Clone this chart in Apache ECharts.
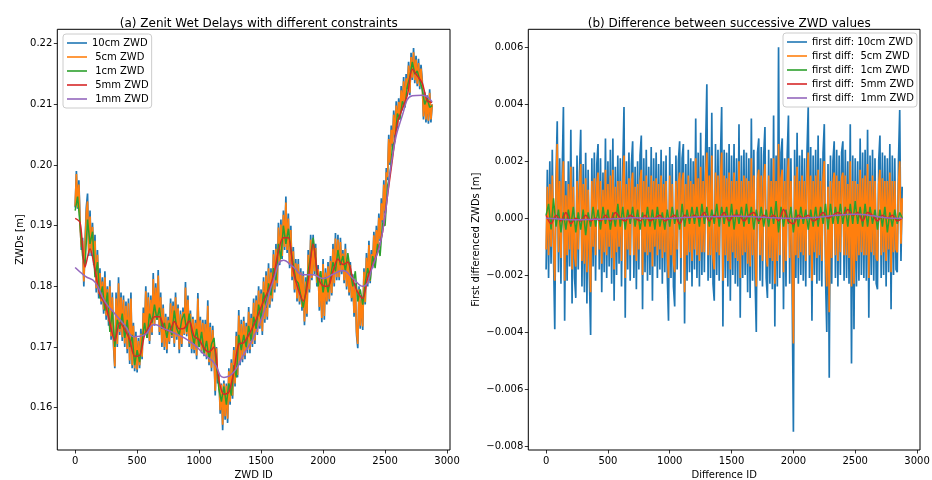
<!DOCTYPE html>
<html><head><meta charset="utf-8">
<script src="https://cdn.jsdelivr.net/npm/echarts@6/dist/echarts.min.js"></script>
<style>html,body{margin:0;padding:0;background:#fff}#c{width:932px;height:480px}</style>
</head><body><div id="c"></div>
<script>
const LAST_ID = 2880;
const xTicks = [0, 500, 1000, 1500, 2000, 2500, 3000];
const leftYTicks = [0.16, 0.17, 0.18, 0.19, 0.20, 0.21, 0.22];
const rightYTicks = [-0.008, -0.006, -0.004, -0.002, 0, 0.002, 0.004, 0.006];
const leftNames = ['10cm ZWD', ' 5cm ZWD', ' 1cm ZWD', ' 5mm ZWD', ' 1mm ZWD'];
const rightNames = ['first diff: 10cm ZWD', 'first diff:  5cm ZWD', 'first diff:  1cm ZWD', 'first diff:  5mm ZWD', 'first diff:  1mm ZWD'];
const colors = ['#1f77b4', '#ff7f0e', '#2ca02c', '#d62728', '#9467bd'];

// (a) ZWD series (evenly spaced over ids 0..LAST_ID)
const zwd10cm = [
.1930,.1990,.1928,.1975,.1905,.1860,.1880,.1800,.1870,.1930,.1953,.1850,.1925,.1850,.1905,.1835,.1885,.1790,.1860,.1780,
.1830,.1770,.1815,.1755,.1825,.1745,.1800,.1735,.1810,.1712,.1790,.1700,.1665,.1790,.1700,.1815,.1720,.1790,.1710,.1785,
.1700,.1775,.1690,.1780,.1672,.1790,.1665,.1740,.1660,.1725,.1658,.1715,.1665,.1730,.1680,.1765,.1720,.1800,.1715,.1790,
.1705,.1785,.1720,.1822,.1735,.1805,.1745,.1827,.1720,.1790,.1700,.1770,.1695,.1755,.1690,.1750,.1705,.1780,.1715,.1775,
.1700,.1790,.1712,.1770,.1690,.1760,.1700,.1765,.1720,.1807,.1718,.1785,.1700,.1760,.1690,.1750,.1690,.1745,.1680,.1789,
.1700,.1750,.1690,.1745,.1685,.1745,.1680,.1777,.1670,.1740,.1660,.1735,.1690,.1620,.1700,.1640,.1655,.1590,.1640,.1563,
.1645,.1580,.1640,.1575,.1665,.1605,.1680,.1615,.1700,.1635,.1725,.1650,.1761,.1670,.1745,.1675,.1750,.1680,.1740,.1690,
.1766,.1690,.1755,.1700,.1780,.1705,.1785,.1720,.1800,.1730,.1795,.1720,.1815,.1740,.1825,.1745,.1838,.1765,.1830,.1775,
.1860,.1790,.1870,.1800,.1905,.1835,.1910,.1845,.1925,.1860,.1948,.1855,.1920,.1830,.1900,.1810,.1865,.1790,.1845,.1775,
.1845,.1770,.1830,.1760,.1825,.1736,.1815,.1750,.1860,.1790,.1885,.1810,.1885,.1820,.1870,.1800,.1835,.1760,.1825,.1741,
.1845,.1745,.1830,.1770,.1840,.1775,.1850,.1785,.1870,.1800,.1888,.1810,.1885,.1810,.1880,.1820,.1860,.1805,.1870,.1795,
.1850,.1785,.1840,.1775,.1820,.1750,.1805,.1720,.1698,.1800,.1730,.1785,.1728,.1830,.1770,.1855,.1800,.1875,.1805,.1860,
.1830,.1890,.1835,.1900,.1860,.1920,.1875,.1945,.1905,.1975,.1920,.1995,.1975,.2050,.2000,.2065,.2030,.2090,.2045,.2105,
.2060,.2110,.2075,.2130,.2090,.2145,.2095,.2150,.2125,.2170,.2115,.2185,.2140,.2193,.2135,.2180,.2130,.2175,.2125,.2165,
.2140,.2075,.2120,.2070,.2115,.2068,.2125,.2070,.2100];
const zwd5cm = [
.1932,.1985,.1930,.1968,.1900,.1865,.1875,.1808,.1865,.1922,.1940,.1855,.1915,.1855,.1898,.1842,.1875,.1797,.1852,.1788,
.1822,.1775,.1808,.1762,.1815,.1752,.1795,.1742,.1800,.1718,.1782,.1708,.1668,.1780,.1705,.1805,.1725,.1782,.1716,.1778,
.1706,.1768,.1697,.1772,.1678,.1780,.1670,.1735,.1665,.1718,.1663,.1710,.1670,.1722,.1684,.1756,.1722,.1792,.1718,.1782,
.1710,.1778,.1724,.1812,.1738,.1798,.1748,.1818,.1725,.1782,.1707,.1764,.1700,.1750,.1696,.1744,.1709,.1772,.1718,.1768,
.1706,.1782,.1717,.1764,.1696,.1754,.1705,.1758,.1722,.1798,.1721,.1778,.1706,.1755,.1697,.1746,.1695,.1740,.1686,.1780,
.1703,.1744,.1694,.1740,.1688,.1738,.1684,.1768,.1675,.1733,.1666,.1728,.1688,.1628,.1698,.1646,.1652,.1596,.1638,.1572,
.1640,.1586,.1636,.1582,.1660,.1610,.1674,.1620,.1695,.1640,.1718,.1654,.1752,.1676,.1738,.1680,.1743,.1686,.1734,.1695,
.1758,.1696,.1748,.1705,.1773,.1711,.1777,.1725,.1793,.1735,.1788,.1726,.1808,.1746,.1818,.1750,.1830,.1770,.1823,.1780,
.1853,.1795,.1862,.1805,.1897,.1840,.1902,.1850,.1918,.1865,.1938,.1860,.1912,.1836,.1893,.1816,.1858,.1795,.1838,.1780,
.1837,.1775,.1823,.1766,.1817,.1742,.1808,.1755,.1852,.1795,.1877,.1814,.1878,.1825,.1863,.1806,.1828,.1766,.1818,.1748,
.1837,.1751,.1823,.1775,.1833,.1779,.1842,.1789,.1862,.1805,.1879,.1815,.1877,.1815,.1873,.1825,.1854,.1810,.1862,.1800,
.1845,.1790,.1835,.1781,.1815,.1756,.1800,.1726,.1705,.1795,.1735,.1780,.1734,.1824,.1774,.1847,.1804,.1868,.1809,.1853,
.1833,.1884,.1838,.1893,.1863,.1913,.1878,.1937,.1909,.1968,.1924,.1988,.1980,.2043,.2004,.2058,.2035,.2083,.2049,.2098,
.2064,.2104,.2079,.2123,.2094,.2138,.2099,.2143,.2128,.2164,.2119,.2178,.2144,.2186,.2140,.2174,.2134,.2168,.2130,.2159,
.2135,.2080,.2116,.2075,.2111,.2073,.2119,.2075,.2100];
const zwd1cm = [
.1925,.1948,.1900,.1850,.1835,.1910,.1870,.1890,.1815,.1840,
.1780,.1800,.1760,.1790,.1725,.1760,.1700,.1745,.1730,.1755,
.1715,.1745,.1700,.1720,.1670,.1695,.1675,.1710,.1740,.1715,
.1755,.1740,.1770,.1745,.1765,.1730,.1740,.1715,.1740,.1720,
.1760,.1730,.1720,.1745,.1755,.1725,.1755,.1725,.1705,.1730,
.1700,.1725,.1690,.1710,.1680,.1705,.1715,.1670,.1630,.1610,
.1635,.1605,.1640,.1620,.1670,.1650,.1720,.1695,.1720,.1700,
.1735,.1710,.1750,.1730,.1770,.1745,.1790,.1765,.1805,.1785,
.1830,.1810,.1870,.1845,.1900,.1870,.1895,.1860,.1835,.1810,
.1805,.1785,.1765,.1790,.1825,.1850,.1880,.1845,.1800,.1825,
.1790,.1815,.1790,.1815,.1840,.1825,.1860,.1835,.1850,.1825,
.1855,.1825,.1800,.1825,.1775,.1795,.1770,.1805,.1830,.1810,
.1850,.1830,.1870,.1850,.1905,.1900,.1965,.1985,.2030,.2040,
.2085,.2075,.2105,.2095,.2130,.2145,.2170,.2150,.2155,.2140,
.2125,.2100,.2110,.2095,.2098];
const zwd5mm = [
.1912,.1905,.1832,.1862,.1827,.1786,.1772,.1740,.1710,.1740,.1729,.1712,.1685,.1686,.1720,.1735,.1750,.1750,.1730,.1727,
.1742,.1730,.1731,.1743,.1718,.1712,.1698,.1692,.1700,.1645,.1622,.1626,.1660,.1705,.1707,.1720,.1736,.1755,.1776,.1794,
.1817,.1858,.1880,.1880,.1825,.1795,.1776,.1811,.1870,.1816,.1801,.1800,.1825,.1845,.1836,.1840,.1812,.1790,.1780,.1815,
.1835,.1857,.1890,.1950,.2010,.2070,.2093,.2115,.2158,.2147,.2135,.2106,.2103];
const zwd1mm = [
.1831,.1817,.1807,.1775,.1755,.1736,.1717,.1720,.1737,.1730,.1723,.1715,.1704,.1688,.1674,.1650,.1659,.1688,.1716,.1756,
.1810,.1843,.1832,.1819,.1819,.1813,.1820,.1826,.1813,.1800,.1833,.1890,.2015,.2082,.2114,.2115,.2104];

// (b) first differences
const diff10cm = [
-.0018,.0017,-.0021,.0020,-.0016,.0024,-.0013,-.0039,.0014,.0034,
-.0019,.0021,-.0023,.0016,.0039,-.0036,.0013,-.0022,.0020,-.0017,
.0031,-.0030,.0018,-.0021,-.0028,.0022,-.0018,.0016,.0031,-.0024,
.0019,-.0026,.0023,-.0030,.0017,-.0020,-.0041,.0021,-.0017,.0023,
-.0022,.0019,.0026,-.0018,.0021,-.0026,.0016,-.0019,.0028,-.0021,
.0020,-.0017,.0024,-.0023,.0028,-.0029,.0018,-.0020,.0022,-.0016,
.0021,-.0024,.0017,.0039,-.0035,.0020,-.0018,.0023,-.0022,.0019,
.0027,-.0021,.0018,-.0025,.0020,-.0018,.0022,.0029,-.0032,.0021,
-.0019,.0024,-.0022,.0018,-.0020,.0025,-.0029,.0021,-.0017,.0023,
-.0021,.0019,-.0018,.0024,-.0023,.0020,-.0019,.0022,-.0020,-.0036,
.0025,-.0021,.0019,-.0024,-.0031,.0022,-.0018,.0020,.0027,-.0023,
.0021,.0026,-.0037,.0019,-.0022,.0024,-.0019,.0021,-.0024,.0020,
-.0018,.0035,-.0021,.0023,-.0024,.0030,-.0020,.0022,-.0019,.0024,
.0047,-.0022,.0025,-.0021,.0037,-.0023,-.0029,.0026,-.0020,.0024,
-.0022,.0021,.0039,-.0038,.0024,-.0021,.0023,-.0024,.0026,-.0029,
.0022,-.0020,.0026,-.0023,.0021,-.0024,.0033,-.0035,.0022,-.0021,
.0024,-.0020,.0023,-.0026,.0021,-.0028,.0035,-.0022,.0024,-.0021,
-.0040,.0023,.0028,-.0022,.0025,-.0024,.0022,.0032,-.0021,-.0028,
.0024,-.0023,.0021,-.0025,.0036,-.0038,.0022,-.0024,.0060,-.0021,
.0023,.0028,-.0032,.0021,-.0024,.0022,.0036,-.0023,.0021,-.0025,
-.0075,.0024,-.0021,.0030,-.0023,.0022,-.0020,.0024,-.0022,.0021,
-.0024,.0023,.0039,-.0021,.0025,-.0036,.0022,-.0020,.0024,-.0023,
.0029,-.0022,.0021,-.0024,.0023,.0033,-.0021,-.0040,.0019,-.0056,
.0022,-.0023,.0020,.0027,-.0021,.0024,-.0024,.0022,-.0020,.0023,
.0027,-.0022,.0024,-.0021,.0020,-.0023,.0033,-.0051,.0022,-.0039,
.0021,-.0024,.0020,-.0022,.0028,-.0020,.0023,-.0021,.0024,-.0022,
.0031,-.0035,.0022,-.0020,.0024,-.0022,.0021,-.0023,-.0025,.0020,
.0029,-.0021,.0023,-.0020,.0022,-.0024,.0021,-.0019,.0026,-.0032,
.0022,-.0020,.0021,-.0018,-.0019,.0020,.0038,-.0015,.0011];
const diff5cm = [
-.0011,.0011,-.0013,.0012,-.0010,.0015,-.0008,-.0022,.0009,.0026,
-.0012,.0013,-.0014,.0010,.0020,-.0022,.0008,-.0013,.0012,-.0011,
.0018,-.0018,.0011,-.0013,-.0017,.0013,-.0011,.0010,.0019,-.0015,
.0012,-.0016,.0014,-.0019,.0010,-.0012,-.0026,.0013,-.0010,.0014,
-.0013,.0012,.0016,-.0011,.0013,-.0016,.0010,-.0012,.0017,-.0013,
.0012,-.0010,.0015,-.0014,.0017,-.0018,.0011,-.0012,.0013,-.0010,
.0013,-.0015,.0010,.0022,-.0021,.0012,-.0011,.0014,-.0013,.0012,
.0016,-.0013,.0011,-.0015,.0012,-.0011,.0013,.0017,-.0020,.0013,
-.0012,.0015,-.0013,.0011,-.0012,.0015,-.0017,.0013,-.0010,.0014,
-.0013,.0012,-.0011,.0015,-.0014,.0012,-.0012,.0013,-.0012,-.0021,
.0015,-.0013,.0012,-.0015,-.0019,.0013,-.0011,.0012,.0016,-.0014,
.0013,.0016,-.0026,.0012,-.0013,.0015,-.0012,.0013,-.0015,.0012,
-.0011,.0021,-.0013,.0014,-.0015,.0018,-.0012,.0013,-.0012,.0015,
.0023,-.0013,.0015,-.0013,.0022,-.0014,-.0018,.0016,-.0012,.0015,
-.0013,.0013,.0023,-.0022,.0015,-.0013,.0014,-.0015,.0016,-.0018,
.0013,-.0012,.0016,-.0014,.0013,-.0015,.0020,-.0021,.0013,-.0013,
.0015,-.0012,.0014,-.0016,.0013,-.0017,.0021,-.0013,.0015,-.0013,
-.0024,.0014,.0017,-.0013,.0015,-.0015,.0013,.0019,-.0013,-.0017,
.0015,-.0014,.0013,-.0015,.0021,-.0023,.0013,-.0015,.0026,-.0013,
.0014,.0017,-.0019,.0013,-.0015,.0013,.0021,-.0014,.0013,-.0015,
-.0044,.0015,-.0013,.0018,-.0014,.0013,-.0012,.0015,-.0013,.0013,
-.0015,.0014,.0023,-.0013,.0015,-.0022,.0013,-.0012,.0015,-.0014,
.0017,-.0013,.0013,-.0015,.0014,.0020,-.0013,-.0024,.0011,-.0033,
.0013,-.0014,.0012,.0016,-.0013,.0015,-.0015,.0013,-.0012,.0014,
.0016,-.0013,.0015,-.0013,.0012,-.0014,.0020,-.0024,.0013,-.0023,
.0013,-.0015,.0012,-.0013,.0017,-.0012,.0014,-.0013,.0015,-.0013,
.0019,-.0021,.0013,-.0012,.0015,-.0013,.0013,-.0014,-.0015,.0012,
.0017,-.0013,.0014,-.0012,.0013,-.0015,.0013,-.0011,.0016,-.0019,
.0013,-.0012,.0013,-.0011,-.0012,.0012,.0020,-.0009,.0007];
const diff1cm = [
.0001,.0005,-.0004,.0007,-.0003,.0003,-.0005,.0002,-.0004,.0003,
-.0003,.0004,-.0005,.0002,-.0004,.0003,-.0006,.0002,-.0003,.0004,
-.0003,.0003,-.0004,.0004,-.0002,.0003,-.0004,.0002,-.0003,.0005,
-.0003,.0004,-.0004,.0003,-.0002,.0004,-.0003,.0003,-.0004,.0002,
-.0003,.0004,-.0003,.0003,-.0004,.0004,-.0003,.0002,-.0004,.0003,
-.0003,.0004,-.0002,.0003,-.0004,.0005,-.0003,.0003,-.0002,.0004,
-.0002,.0004,-.0003,.0005,-.0002,.0004,-.0003,.0003,-.0002,.0005,
-.0003,.0004,-.0002,.0004,-.0003,.0005,-.0004,.0003,-.0002,.0004,
-.0003,.0005,-.0002,.0004,-.0004,.0003,-.0002,.0004,-.0003,.0003,
-.0003,.0004,-.0002,.0006,-.0005,.0004,-.0003,.0003,-.0002,.0004,
-.0005,.0003,-.0003,.0004,-.0002,.0003,-.0004,.0003,-.0003,.0004,
-.0003,.0004,-.0002,.0005,-.0004,.0005,-.0002,.0004,-.0002,.0005,
-.0002,.0004,-.0003,.0005,-.0002,.0006,-.0002,.0004,-.0003,.0005,
-.0003,.0004,-.0002,.0003,-.0004,.0003,-.0003,.0004,-.0005,.0002,
-.0003,.0003,-.0002,.0002,.0000];
const diff5mm = [
.0001,-.0002,.0001,-.0001,.0002,-.0002,.0000,-.0001,.0001,-.0001,
.0000,-.0001,.0001,-.0001,.0002,.0000,-.0001,.0001,.0000,-.0001,
.0001,-.0001,.0000,.0001,-.0001,.0000,.0001,-.0002,.0001,.0000,
.0001,.0000,.0002,-.0001,.0001,.0000,.0002,-.0001,.0001,.0001,
-.0001,.0001,.0002,-.0001,.0001,.0000,.0001,-.0001,.0003,-.0001,
-.0002,.0001,.0000,.0001,-.0001,.0000,.0002,.0000,.0001,.0002,
.0001,.0003,.0001,.0002,-.0001,.0002,.0001,-.0001,.0001,.0000,
.0001,-.0001,.0000];
const diff1mm = [
0,-.00002,-.00005,-.00006,-.00005,-.00004,-.00003,-.00002,0,.00001,0,0,-.00001,0,.00002,.00004,.00006,.00005,.00006,.00007,
.00006,.00005,.00003,.00001,0,-.00001,0,.00002,.00005,.00009,.00012,.00014,.00013,.00008,.00003,0,0];

const FONT = 'DejaVu Sans';
function pts(arr) {
  const step = LAST_ID / (arr.length - 1);
  return arr.map((v, i) => [i * step, v]);
}
function fmtMinus(d) { return v => (v < 0 ? '\u2212' : '') + Math.abs(v).toFixed(d); }

const leftData = [zwd10cm, zwd5cm, zwd1cm, zwd5mm, zwd1mm];
const rightData = [diff10cm, diff5cm, diff1cm, diff5mm, diff1mm];
const widths = [1.7, 1.7, 1.5, 1.5, 1.5];
const smooths = [false, false, false, 0.3, 0.5];

const series = [];
leftData.forEach((arr, k) => series.push({
  name: leftNames[k], type: 'line', xAxisIndex: 0, yAxisIndex: 0, data: pts(arr),
  symbol: 'none', showSymbol: false, smooth: smooths[k],
  lineStyle: { color: colors[k], width: widths[k] }, itemStyle: { color: colors[k] }, z: 2 + k
}));
rightData.forEach((arr, k) => series.push({
  name: rightNames[k], type: 'line', xAxisIndex: 1, yAxisIndex: 1, data: pts(arr),
  symbol: 'none', showSymbol: false, smooth: k >= 3 ? smooths[k] : false,
  lineStyle: { color: colors[k], width: widths[k] }, itemStyle: { color: colors[k] }, z: 2 + k
}));

function xAxis(idx, name) {
  return {
    type: 'value', gridIndex: idx, min: -144, max: 3024,
    name: name, nameLocation: 'middle', nameGap: 18,
    nameTextStyle: { fontFamily: FONT, fontSize: 10, color: '#000' },
    axisLine: { show: false, onZero: false }, splitLine: { show: false },
    axisTick: { show: true, length: 3.5, customValues: xTicks, lineStyle: { color: '#000', width: 0.8 } },
    axisLabel: { customValues: xTicks, margin: 6, fontFamily: FONT, fontSize: 10, color: '#000',
      formatter: v => String(Math.round(v)) }
  };
}
function yAxis(idx, name, min, max, ticks, dec, gap) {
  return {
    type: 'value', gridIndex: idx, min: min, max: max,
    name: name, nameLocation: 'middle', nameGap: gap,
    nameTextStyle: { fontFamily: FONT, fontSize: 10, color: '#000' },
    axisLine: { show: false, onZero: false }, splitLine: { show: false },
    axisTick: { show: true, length: 3.5, customValues: ticks, lineStyle: { color: '#000', width: 0.8 } },
    axisLabel: { customValues: ticks, margin: 5, fontFamily: FONT, fontSize: 10, color: '#000',
      formatter: fmtMinus(dec) }
  };
}
function legend(names, left, top) {
  return {
    data: names, orient: 'vertical', left: left, top: top,
    icon: 'rect', itemWidth: 20, itemHeight: 1.6, itemGap: 2,
    padding: [3, 3, 3, 4],
    backgroundColor: 'rgba(255,255,255,0.8)', borderColor: '#cccccc', borderWidth: 1, borderRadius: 3,
    textStyle: { fontFamily: FONT, fontSize: 10, color: '#000', lineHeight: 12 },
    selectedMode: false
  };
}

const chart = echarts.init(document.getElementById('c'), null, { renderer: 'canvas' });
chart.setOption({
  animation: false,
  backgroundColor: '#fff',
  title: [
    { text: '(a) Zenit Wet Delays with different constraints', left: 253.7, top: 13, textAlign: 'center',
      textStyle: { fontFamily: FONT, fontSize: 12, fontWeight: 'normal', color: '#000' } },
    { text: '(b) Difference between successive ZWD values', left: 724.2, top: 13, textAlign: 'center',
      textStyle: { fontFamily: FONT, fontSize: 12, fontWeight: 'normal', color: '#000' } }
  ],
  grid: [
    { left: 57.3, top: 29.3, width: 392.7, height: 420.7, show: true, borderColor: '#000', borderWidth: 1,
      backgroundColor: 'transparent', outerBoundsMode: 'none', containLabel: false },
    { left: 528.3, top: 29.3, width: 391.7, height: 420.7, show: true, borderColor: '#000', borderWidth: 1,
      backgroundColor: 'transparent', outerBoundsMode: 'none', containLabel: false }
  ],
  xAxis: [xAxis(0, 'ZWD ID'), xAxis(1, 'Difference ID')],
  yAxis: [
    yAxis(0, 'ZWDs [m]', 0.15303, 0.22237, leftYTicks, 2, 32),
    yAxis(1, 'First differenced ZWDs [m]', -0.00814, 0.00663, rightYTicks, 3, 47)
  ],
  legend: [legend(leftNames, 63, 34), legend(rightNames, 783, 33)],
  series: series
});
</script>
</body></html>
